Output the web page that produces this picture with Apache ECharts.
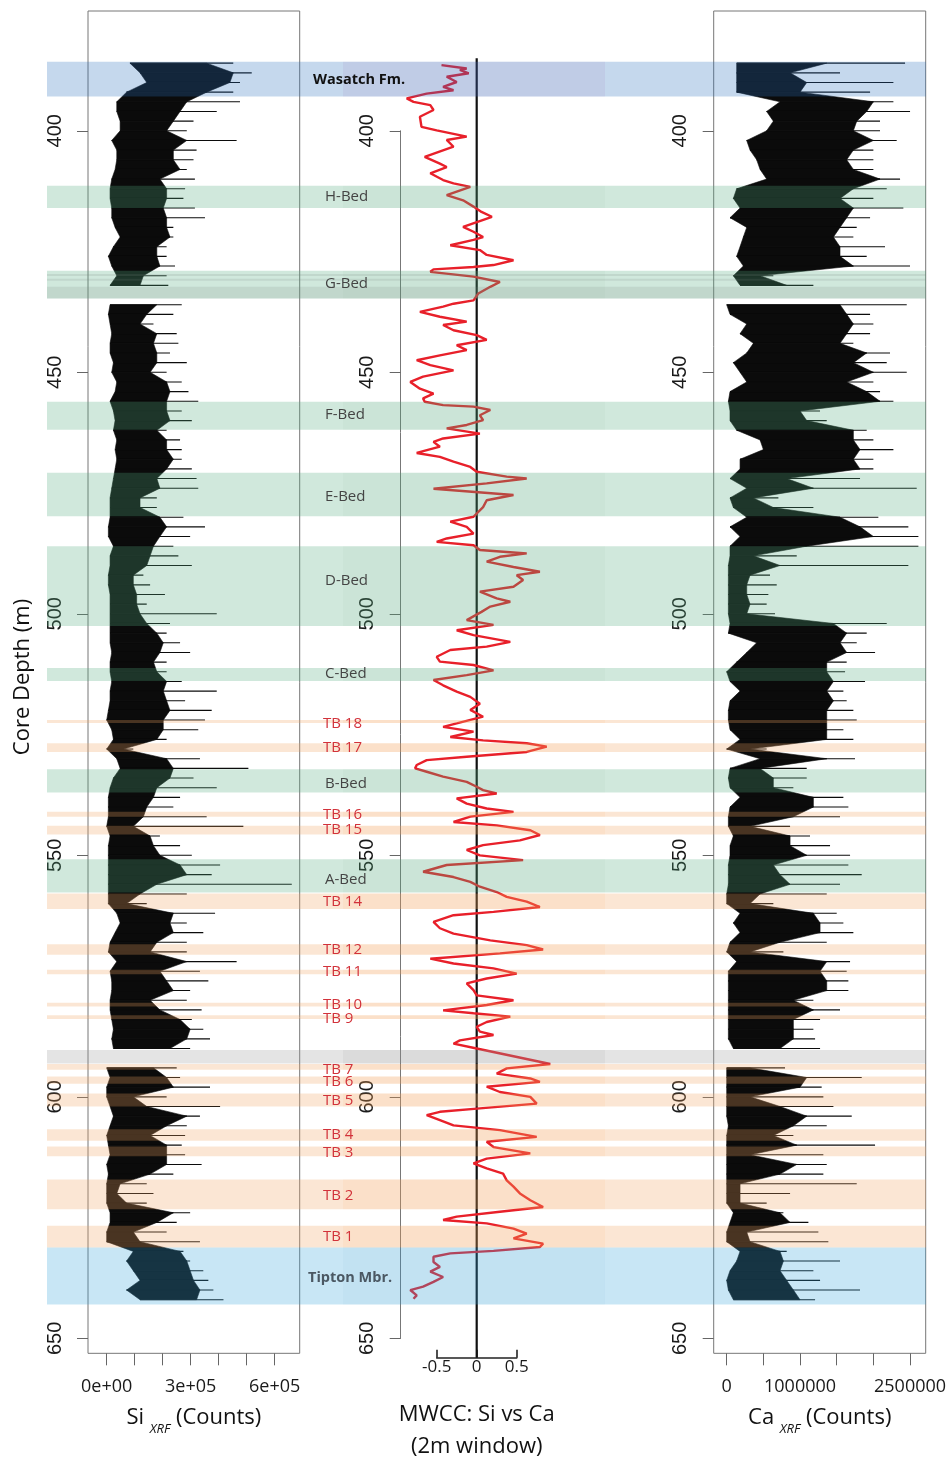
<!DOCTYPE html>
<html><head><meta charset="utf-8">
<script src="https://cdn.jsdelivr.net/npm/echarts@6/dist/echarts.min.js"></script>
<style>html,body{margin:0;padding:0;background:#fff}#c{width:952px;height:1460px}</style>
</head><body><div id="c"></div>
<script>
// ---------- DATA ----------
// depth bins (m) for the XRF envelopes
const depths = [
386,388,390,392,394,396,398,400,402,404,
406,408,410,412,414,416,418,420,422,424,
426,428,430,432,434,436,438,440,442,444,
446,448,450,452,454,456,458,460,462,464,
466,468,470,472,474,476,478,480,482,484,
486,488,490,492,494,496,498,500,502,504,
506,508,510,512,514,516,518,520,522,524,
526,528,530,532,534,536,538,540,542,544,
546,548,550,552,554,556,558,560,562,564,
566,568,570,572,574,576,578,580,582,584,
586,588,590,592,594,596,598,600,602,604,
606,608,610,612,614,616,618,620,622,624,
626,628,630,632,634,636,638,640,642];
// Si XRF (thousand counts): dense-core low / high, spike peak
const siLo = [
83,119,143,71,36,36,48,48,18,36,
36,30,18,12,12,18,18,30,48,24,
6,18,36,12,null,12,6,12,18,12,
12,24,18,36,30,12,24,30,24,36,
30,36,30,24,18,12,12,12,6,6,
24,12,12,6,6,12,12,12,12,12,
12,18,12,12,18,12,12,6,0,18,
24,0,36,48,24,12,6,6,6,0,
12,6,6,6,6,6,6,6,36,48,
30,12,6,36,12,18,18,12,12,18,
24,18,24,null,0,12,0,0,12,24,
12,0,6,12,0,6,0,0,0,12,
12,0,0,95,71,95,119,71,119];
const siHi = [
357,452,440,357,286,262,238,214,286,238,
238,262,190,214,214,202,214,214,226,179,
179,190,131,119,null,179,143,119,179,167,
179,179,155,214,226,214,214,226,179,214,
214,238,214,179,190,119,119,190,214,190,
167,155,143,95,95,107,107,119,143,179,
202,190,167,179,214,202,214,226,202,202,
179,60,214,238,226,179,167,143,131,95,
155,167,190,262,286,179,119,71,238,226,
238,179,155,286,190,214,238,155,190,262,
298,286,226,null,167,214,238,95,143,286,
214,155,214,214,214,155,48,36,71,238,
179,95,119,262,286,298,310,333,321];
const siPk = [
452,518,476,452,476,393,310,286,464,321,
310,286,315,280,274,315,351,238,238,214,
214,244,214,220,null,268,238,167,250,256,
226,286,214,268,292,327,268,304,214,262,
268,268,304,321,327,179,179,274,351,298,
238,256,304,131,155,208,143,393,226,214,
262,298,214,214,268,393,280,375,351,327,
214,95,333,506,310,393,262,238,357,488,
190,262,304,405,375,661,286,143,387,286,
345,286,286,464,333,363,298,286,339,304,
345,369,298,null,250,262,369,214,405,333,
286,280,268,280,339,238,143,167,143,298,
250,214,333,274,298,345,363,381,417];
// Ca XRF (thousand counts)
const caLo = [
136,136,136,136,727,545,636,545,273,318,
409,455,545,136,91,182,45,273,227,182,
136,227,91,182,null,0,45,273,182,364,
273,91,182,273,45,23,45,45,136,455,
500,182,182,45,273,45,91,273,45,182,
45,45,23,23,23,23,23,23,45,23,
409,273,136,0,45,182,45,23,23,45,
182,0,455,45,23,45,182,45,23,23,
91,45,45,23,23,23,0,0,182,91,
182,45,0,136,23,23,23,23,23,23,
23,23,91,null,0,0,0,0,0,0,
23,0,0,0,0,0,0,0,0,91,
45,0,0,182,136,45,0,23,91];
const caHi = [
1364,864,1091,1000,2000,1909,1773,1727,2000,1727,
1636,1727,2091,1727,1545,1727,1636,1545,1455,1545,
1545,1727,455,818,null,1545,1636,1727,1636,1545,
1909,1727,2000,1636,1909,2091,1000,1091,1727,1727,
1818,1727,1818,818,1182,364,636,1545,1818,2000,
1091,364,727,318,273,273,318,273,1455,1636,
1545,1636,1364,1364,1455,1364,1455,1364,1364,1364,
1364,318,1364,455,636,636,1182,1182,909,318,
864,864,1091,636,727,864,455,318,1182,1273,
1273,727,318,1364,1273,1364,1364,909,1182,909,
909,909,727,null,318,1091,1000,318,727,1091,
909,636,955,318,955,727,182,182,182,727,
864,273,318,727,773,727,818,909,1000];
const caPk = [
2432,1545,2273,1955,2273,2500,2091,2091,2318,2000,
2000,2000,2364,2182,2000,2409,1955,1773,1727,2159,
1909,2500,636,1182,null,2455,1955,2000,1955,1727,
2227,2182,2455,2000,2091,2273,1273,1364,1909,2000,
2273,2000,2000,1818,2591,705,1182,2068,2477,2614,
2614,955,2477,591,682,568,545,659,2182,1909,
1773,2023,1636,1614,1886,1591,1636,1727,1773,1591,
1727,545,1750,1091,1091,909,1591,1659,1545,864,
1136,1409,1682,1659,1841,1545,1364,636,1500,1591,
1727,1364,773,1682,1636,1659,1659,1182,1545,1273,
1182,1205,1273,null,795,1841,1295,1318,1455,1705,
1364,909,2023,1318,1364,1318,1773,864,545,773,
1114,1250,1386,818,1545,1182,1273,1818,1205];
// MWCC Si vs Ca (2 m window)
const mwDepth = [
386.4,387.1,387.4,388.1,388.8,389.9,390.9,391.6,392.3,393.3,
394.0,394.7,395.7,397.1,399.2,399.9,401.2,401.9,403.3,405.4,
406.8,407.5,408.8,410.2,410.9,411.6,413.3,414.4,415.7,416.8,
417.8,418.8,419.9,420.9,422.0,422.6,423.7,424.7,425.7,426.8,
427.8,428.2,428.7,429.2,430.2,431.3,432.3,433.7,435.1,435.8,
436.4,437.5,438.5,439.5,440.2,441.3,442.3,443.3,444.4,445.4,
446.5,447.5,448.5,449.6,450.9,452.0,453.4,454.4,455.4,456.1,
456.8,457.1,457.8,458.9,459.9,460.9,461.6,462.7,463.7,464.4,
465.4,466.7,467.5,468.5,469.6,470.6,471.6,472.0,473.0,474.1,
475.4,476.5,477.9,479.9,480.9,482.0,483.4,484.4,485.1,485.8,
486.8,487.5,488.2,489.2,490.3,491.3,492.0,493.0,494.4,495.4,
496.8,497.5,498.5,499.6,501.3,502.3,503.4,504.4,505.8,506.8,
507.5,508.9,509.9,510.6,511.7,512.7,513.7,514.8,516.1,517.2,
518.6,519.9,521.3,522.7,523.4,524.4,525.5,526.2,526.8,527.5,
528.6,529.6,530.3,531.3,532.0,532.7,533.7,534.8,535.8,536.5,
537.2,538.2,539.3,540.3,541.0,542.0,543.1,543.8,544.8,545.8,
546.9,547.9,548.9,550.0,551.0,552.0,553.4,554.5,555.5,556.5,
557.6,558.6,559.6,560.7,561.7,562.4,563.8,565.1,566.2,567.6,
568.6,569.5,570.3,571.4,572.4,573.4,574.5,575.5,576.5,577.9,
579.0,580.0,581.0,582.1,582.7,583.4,584.5,585.5,586.5,587.2,
588.3,589.0,590.0,593.2,594.1,595.2,596.2,596.9,597.9,599.0,
600.0,601.4,602.4,603.1,603.8,604.8,605.9,606.9,608.3,609.3,
610.4,611.7,612.8,613.8,614.8,615.9,617.3,618.6,620.0,621.4,
622.8,623.8,624.8,625.5,626.2,627.3,628.3,629.3,630.4,631.1,
631.9,632.4,633.1,634.2,635.2,636.2,637.3,638.3,639.3,640.0,
641.1,641.8];
const mwVal = [
-0.44,-0.125,-0.21,-0.10,-0.375,-0.25,-0.42,-0.29,-0.625,-0.875,
-0.79,-0.58,-0.54,-0.71,-0.69,-0.5,-0.125,-0.375,-0.29,-0.65,
-0.46,-0.375,-0.58,-0.42,-0.29,-0.08,-0.375,-0.17,-0.04,0.06,
0.19,0.02,-0.17,-0.04,0.08,-0.04,-0.33,0.04,0.125,0.46,
0.21,-0.04,-0.54,-0.58,-0.04,0.29,0.17,0.02,-0.04,-0.29,
-0.42,-0.71,-0.46,-0.125,-0.42,-0.29,0.0,0.125,-0.25,-0.125,
-0.46,-0.75,-0.58,-0.29,-0.67,-0.83,-0.71,-0.54,-0.67,-0.65,
-0.42,-0.04,0.17,0.04,0.08,-0.125,-0.375,0.04,-0.42,-0.54,
-0.46,-0.75,-0.46,-0.29,-0.08,0.0,0.375,0.625,0.125,-0.54,
0.46,0.125,0.08,-0.04,-0.33,-0.125,-0.04,-0.375,-0.5,-0.04,
0.04,0.625,0.29,0.125,0.46,0.79,0.5,0.58,0.46,0.04,
0.25,0.42,0.17,0.06,-0.125,0.21,-0.25,-0.04,0.42,0.125,
-0.33,-0.5,-0.46,-0.04,0.21,-0.125,-0.54,-0.42,-0.25,-0.08,
0.04,-0.08,0.08,-0.25,-0.42,-0.04,-0.33,0.08,0.625,0.875,
0.625,-0.125,-0.625,-0.75,-0.77,-0.625,-0.42,-0.125,0.0,0.08,
0.25,-0.25,-0.125,0.125,0.46,-0.08,-0.29,0.25,0.67,0.79,
0.54,0.08,-0.125,0.04,0.58,-0.375,-0.67,-0.29,-0.08,0.04,
0.25,0.375,0.625,0.79,0.21,-0.29,-0.54,-0.46,-0.29,0.17,
0.625,0.83,0.29,-0.58,-0.29,0.21,0.5,0.125,-0.125,-0.04,
0.0,0.46,0.125,-0.42,-0.04,0.42,0.125,0.0,0.04,0.21,
-0.21,-0.29,0.0,0.92,0.375,0.25,0.67,0.79,0.125,0.29,
0.67,0.75,0.04,-0.46,-0.625,-0.46,-0.29,0.29,0.75,0.125,
0.21,0.67,0.125,-0.04,0.125,0.33,0.375,0.46,0.54,0.67,
0.83,0.29,-0.25,-0.42,0.125,0.46,0.625,0.46,0.83,0.79,
0.21,-0.33,-0.54,-0.54,-0.46,-0.58,-0.42,-0.54,-0.67,-0.83,
-0.75,-0.79];
const zeroLineDepths = [385, 654];
// Stratigraphic bands (depth top / bottom, kind)
const bandTop  = [385.7,411.4,429.0,429.65,430.62,432.3,456.1,470.8,486.0,511.2,522.0,526.8,532.2,541.0,543.9,550.8,557.9,568.4,573.7,580.5,583.1,590.3,593.2,595.8,599.3,606.7,610.3,617.1,626.7,631.2];
const bandBot  = [392.9,416.0,434.7,430.06,431.03,434.7,461.9,479.8,502.5,513.9,522.6,528.6,537.0,542.0,545.7,557.7,561.1,570.6,574.6,581.3,583.9,593.1,594.4,597.3,602.0,609.1,612.3,623.3,631.2,643.0];
const bandKind = ['fm','bed','bed','stripe','stripe','stripe','bed','bed','bed','bed','tb','tb','bed','tb','tb','bed','tb','tb','tb','tb','tb','gap','tb','tb','tb','tb','tb','tb','tb','mbr'];
// Band labels
const labelText  = ['Wasatch Fm.','H-Bed','G-Bed','F-Bed','E-Bed','D-Bed','C-Bed','TB 18','TB 17','B-Bed','TB 16','TB 15','A-Bed','TB 14','TB 12','TB 11','TB 10','TB 9','TB 7','TB 6','TB 5','TB 4','TB 3','TB 2','TB 1','Tipton Mbr.'];
const labelDepth = [389.5,413.6,431.6,458.7,475.8,493.2,512.4,522.8,527.7,535.1,541.5,544.8,555.0,559.7,569.5,574.1,581.0,583.9,594.4,596.9,600.8,607.8,611.5,620.5,629.0,637.4];
const labelKind  = ['fm','bed','bed','bed','bed','bed','bed','tb','tb','bed','tb','tb','bed','tb','tb','tb','tb','tb','tb','tb','tb','tb','tb','tb','tb','mbr'];
// Axis ticks
const depthTicks = [400,450,500,550,600,650];
const siTicks = [0,100000,200000,300000,400000,500000,600000];
const siLabels = [0,300000,600000];
const caTicks = [0,500000,1000000,1500000,2000000,2500000];
const caLabels = [0,1000000,2500000];
const mwTicks = [-0.5,0,0.5];

// ---------- STYLE ----------
const Y_MIN = 375.2, Y_MAX = 653.1, PX_PER_M = 4.8302;
const GRID_TOP = 11, GRID_H = (Y_MAX - Y_MIN) * PX_PER_M;
const MID_YMAX = 654.0, MID_H = (MID_YMAX - Y_MIN) * PX_PER_M;
const bandStyle = {
  fm:    {fill:'rgba(40,111,188,0.27)',  mid:'rgba(135,66,150,0.08)'},
  bed:   {fill:'rgba(81,170,125,0.27)',  mid:'rgba(90,150,110,0.04)'},
  stripe:{fill:'rgba(120,130,125,0.16)', mid:null},
  tb:    {fill:'rgba(240,162,96,0.27)',  mid:'rgba(255,150,60,0.07)'},
  gap:   {fill:'rgba(155,155,155,0.27)', mid:'rgba(120,120,120,0.08)'},
  mbr:   {fill:'rgba(51,162,218,0.27)',  mid:'rgba(60,120,170,0.04)'}
};
const labelStyle = {
  fm:  {dx:266, font:'bold 14.5px "Open Sans"', fill:'#111'},
  bed: {dx:278, font:'15px "Open Sans"', fill:'#444'},
  tb:  {dx:276, font:'15px "Open Sans"', fill:'#d2323a'},
  mbr: {dx:261, font:'bold 14.5px "Open Sans"', fill:'#4b5863'}
};
const MID_FROM = 0.3367, MID_TO = 0.6348;

function sci(v){
  if (v === 0) return '0e+00';
  const e = Math.floor(Math.log10(Math.abs(v)));
  const m = Math.round(v / Math.pow(10, e));
  return m + 'e+' + String(e).padStart(2, '0');
}

function envelope(lo, hi, pk, color){
  return function(params, api){
    const i = params.dataIndex;
    const ch = [];
    if (lo[i] == null) return {type:'group', children: ch};
    const d = depths[i];
    const P = (v, dd) => api.coord([v * 1000, dd]);
    if (i + 1 < depths.length && lo[i+1] != null) {
      const d2 = depths[i+1];
      ch.push({type:'polygon', shape:{points:[P(lo[i],d), P(hi[i],d), P(hi[i+1],d2), P(lo[i+1],d2)]},
        style:{fill:color, stroke:color, lineWidth:0.6}});
    }
    const a = P(lo[i], d), b = P(pk[i], d);
    ch.push({type:'line', shape:{x1:a[0], y1:a[1], x2:b[0], y2:b[1]},
      style:{stroke:color, lineWidth:1.1}});
    return {type:'group', children: ch};
  };
}

const envData = depths.map(d => [0, d]);
const richName = {
  a: {fontSize:22, fontFamily:'Open Sans', color:'#111', lineHeight:36},
  s: {fontSize:13, fontFamily:'Open Sans', fontStyle:'italic', color:'#111', verticalAlign:'bottom'}
};
const hiddenY = (gi, max) => ({type:'value', gridIndex:gi, inverse:true, min:Y_MIN, max:max, show:false, splitLine:{show:false}});
const depthAxis = (gi, showLine) => ({
  type:'value', gridIndex:gi, inverse:true, min:depthTicks[0], max:depthTicks[depthTicks.length-1], interval:50,
  axisLine:{show:showLine, lineStyle:{color:'#777', width:1}},
  axisTick:{show:true, length:11, lineStyle:{color:'#666'}},
  axisLabel:{rotate:90, margin:23, fontSize:20, fontFamily:'Liberation Sans', color:'#1a1a1a'},
  splitLine:{show:false}
});
const depthTop = GRID_TOP + (depthTicks[0] - Y_MIN) * PX_PER_M;
const depthH = (depthTicks[depthTicks.length-1] - depthTicks[0]) * PX_PER_M;
const G = (o) => Object.assign({outerBoundsMode:'none', containLabel:false}, o);

const chart = echarts.init(document.getElementById('c'), null, {renderer:'canvas', width:952, height:1460});
const option = {
  animation:false,
  backgroundColor:'#ffffff',
  grid:[
    G({left:88, top:GRID_TOP, width:211.7, height:GRID_H, show:true, borderColor:'#777', borderWidth:1, backgroundColor:'transparent'}),
    G({left:396.7, top:GRID_TOP, width:160, height:MID_H}),
    G({left:713.7, top:GRID_TOP, width:212, height:GRID_H, show:true, borderColor:'#777', borderWidth:1, backgroundColor:'transparent'}),
    G({left:47, top:GRID_TOP, width:879, height:GRID_H}),
    G({left:88, top:depthTop, width:211.7, height:depthH}),
    G({left:400.7, top:depthTop, width:10, height:depthH}),
    G({left:713.7, top:depthTop, width:212, height:depthH}),
    G({left:436.7, top:GRID_TOP, width:80, height:MID_H})
  ],
  xAxis:[
    {type:'value', gridIndex:0, min:-66786, max:689286,
     axisLine:{show:false}, splitLine:{show:false},
     axisTick:{show:true, customValues:siTicks, length:12, lineStyle:{color:'#666'}},
     axisLabel:{customValues:siLabels, formatter:sci, margin:25, fontSize:18, fontFamily:'Open Sans', color:'#1a1a1a'},
     name:'{a|Si }{s|XRF}{a| (Counts)}', nameLocation:'middle', nameGap:46.7, nameTextStyle:{rich:richName}},
    {type:'value', gridIndex:1, min:-1, max:1, show:false, splitLine:{show:false}},
    {type:'value', gridIndex:2, min:-177270, max:2713600,
     axisLine:{show:false}, splitLine:{show:false},
     axisTick:{show:true, customValues:caTicks, length:12, lineStyle:{color:'#666'}},
     axisLabel:{customValues:caLabels, formatter: v => String(v), margin:25, fontSize:18, fontFamily:'Open Sans', color:'#1a1a1a'},
     name:'{a|Ca }{s|XRF}{a| (Counts)}', nameLocation:'middle', nameGap:46.7, nameTextStyle:{rich:richName}},
    {type:'value', gridIndex:3, min:0, max:1, show:false, splitLine:{show:false}},
    {type:'value', gridIndex:4, min:0, max:1, show:false, splitLine:{show:false}},
    {type:'value', gridIndex:5, min:0, max:1, show:false, splitLine:{show:false}},
    {type:'value', gridIndex:6, min:0, max:1, show:false, splitLine:{show:false}},
    {type:'value', gridIndex:7, min:mwTicks[0], max:mwTicks[2], interval:0.5,
     axisLine:{show:true, lineStyle:{color:'#222', width:1.6}}, splitLine:{show:false},
     axisTick:{show:true, inside:true, length:8, lineStyle:{color:'#222', width:1.6}},
     axisLabel:{margin:1, fontSize:17, fontFamily:'Open Sans', color:'#1a1a1a', formatter: v => String(v)},
     name:'MWCC: Si vs Ca\n(2m window)', nameLocation:'middle', nameGap:41.5,
     nameTextStyle:{fontSize:22, fontFamily:'Open Sans', color:'#111', lineHeight:31.7}}
  ],
  yAxis:[
    hiddenY(0, Y_MAX), hiddenY(1, MID_YMAX), hiddenY(2, Y_MAX), hiddenY(3, Y_MAX),
    depthAxis(4, false), depthAxis(5, true), depthAxis(6, false),
    hiddenY(7, MID_YMAX)
  ],
  series:[
    {type:'custom', name:'Si', xAxisIndex:0, yAxisIndex:0, data:envData, renderItem:envelope(siLo, siHi, siPk, '#0b0b0b'), z:2, silent:true},
    {type:'custom', name:'Ca', xAxisIndex:2, yAxisIndex:2, data:envData, renderItem:envelope(caLo, caHi, caPk, '#0b0b0b'), z:2, silent:true},
    {type:'line', name:'zero', xAxisIndex:1, yAxisIndex:1, data:zeroLineDepths.map(d => [0, d]),
     showSymbol:false, symbol:'none', lineStyle:{color:'#111', width:2.2}, z:2, silent:true},
    {type:'line', name:'MWCC', xAxisIndex:1, yAxisIndex:1, data:mwDepth.map((d,i) => [mwVal[i], d]),
     showSymbol:false, symbol:'none', lineStyle:{color:'#e8202a', width:2.4}, z:3, silent:true},
    {type:'custom', name:'bands', xAxisIndex:3, yAxisIndex:3, data:bandTop.map((t,i) => [0, t]), z:5, silent:true,
     renderItem:function(params, api){
       const i = params.dataIndex;
       const cs = params.coordSys;
       const y0 = api.coord([0, bandTop[i]])[1], y1 = api.coord([0, bandBot[i]])[1];
       const st = bandStyle[bandKind[i]];
       const ch = [{type:'rect', shape:{x:cs.x, y:y0, width:cs.width, height:y1-y0}, style:{fill:st.fill}}];
       if (st.mid) ch.push({type:'rect', shape:{x:cs.x + cs.width*MID_FROM, y:y0, width:cs.width*(MID_TO-MID_FROM), height:y1-y0}, style:{fill:st.mid}});
       return {type:'group', children:ch};
     }},
    {type:'custom', name:'labels', xAxisIndex:3, yAxisIndex:3, data:labelDepth.map(d => [0, d]), z:6, silent:true,
     renderItem:function(params, api){
       const i = params.dataIndex;
       const cs = params.coordSys;
       const y = api.coord([0, labelDepth[i]])[1];
       const ls = labelStyle[labelKind[i]];
       return {type:'text', x:cs.x + ls.dx, y:y,
         style:{text:labelText[i], font:ls.font, fill:ls.fill, textAlign:'left', textVerticalAlign:'middle', align:'left', verticalAlign:'middle'}};
     }}
  ],
  graphic:[
    {type:'text', x:23, y:677, rotation:Math.PI/2,
     style:{text:'Core Depth (m)', font:'22px "Open Sans"', fill:'#111', textAlign:'center', textVerticalAlign:'middle', align:'center', verticalAlign:'middle'}}
  ]
};
chart.setOption(option);
</script>
</body></html>
